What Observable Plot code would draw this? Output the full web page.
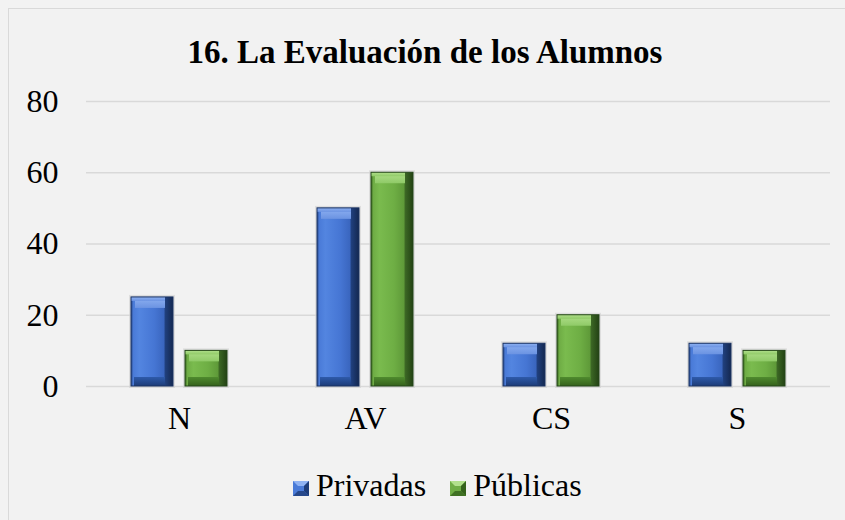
<!DOCTYPE html>
<html>
<head>
<meta charset="utf-8">
<script src="https://cdn.jsdelivr.net/npm/d3@7"></script>
<script src="https://cdn.jsdelivr.net/npm/@observablehq/plot@0.6"></script>
<style>
  html, body { margin: 0; padding: 0; background: #f2f2f2; }
  #page { position: relative; width: 845px; height: 520px; overflow: hidden; background: #f2f2f2; }
  #frame { position: absolute; left: 8px; top: 8px; width: 860px; height: 540px; border: 1.5px solid #d9d9d9; box-sizing: border-box; }
  #title { position: absolute; left: 0; top: 36px; width: 850px; text-align: center;
    font-family: "Liberation Serif", "Times New Roman", serif; font-weight: bold; font-size: 33px; line-height: 33px; color: #000; }
  #chart { position: absolute; left: 0; top: 0; }
  #legend { position: absolute; left: 293px; top: 469px; font-family: "Liberation Serif", "Times New Roman", serif;
    font-size: 32px; line-height: 32px; color: #000; white-space: nowrap; }
  #legend span.item { display: inline-block; margin-right: 24px; }
  #legend svg { vertical-align: baseline; margin-right: 7px; }
</style>
</head>
<body>
<div id="page">
  <div id="frame"></div>
  <div id="title"></div>
  <div id="chart"></div>
  <div id="legend"></div>
</div>
<script>
const titleText = "16. La Evaluación de los Alumnos";
const categories = ["N", "AV", "CS", "S"];
const seriesNames = ["Privadas", "Públicas"];
const privadas = [25, 50, 12, 12];
const publicas = [10, 60, 20, 10];
const yTicks = [0, 20, 40, 60, 80];

const data = categories.flatMap((c, i) => [
  {cat: c, series: seriesNames[0], value: privadas[i]},
  {cat: c, series: seriesNames[1], value: publicas[i]}
]);
const dataP = data.filter(d => d.series === seriesNames[0]);
const dataU = data.filter(d => d.series === seriesNames[1]);

document.getElementById("title").textContent = titleText;

function bevelMarks(rows, key, outline) {
  const common = {fx: "cat", x: "series"};
  return [
    Plot.barY(rows, {...common, y: "value", fill: "none", stroke: "#d0d0d0", strokeWidth: 4, strokeOpacity: 0.6}),
    Plot.barY(rows, {...common, y: "value", fill: `url(#body${key})`}),
    Plot.barY(rows, {...common, y1: "value", y2: "value", insetBottom: -11, insetLeft: 4, insetRight: 8, fill: `url(#top${key})`}),
    Plot.barY(rows, {...common, y1: "value", y2: "value", insetBottom: -4, insetRight: 8, fill: `url(#top${key})`}),
    Plot.barY(rows, {...common, y1: () => 0, y2: () => 0, insetTop: -9, insetLeft: 3, insetRight: 8, fill: `url(#bot${key})`}),
    Plot.barY(rows, {...common, y: "value", fill: "none", stroke: outline, strokeWidth: 1})
  ];
}

const chart = Plot.plot({
  width: 845,
  height: 450,
  marginTop: 101,
  marginBottom: 64,
  marginLeft: 86,
  marginRight: 15,
  style: {background: "transparent", fontFamily: "'Liberation Serif', 'Times New Roman', serif", fontSize: "32px", color: "#000", overflow: "visible"},
  fx: {domain: categories, padding: 0, axis: "bottom", tickSize: 0, tickPadding: 20, label: null},
  x: {domain: seriesNames, paddingInner: 0.222, paddingOuter: 0.833, axis: null},
  y: {domain: [0, 80], ticks: yTicks, tickSize: 0, tickPadding: 28, label: null},
  marks: [
    Plot.ruleY(yTicks, {stroke: "#d9d9d9", strokeWidth: 1.5}),
    ...bevelMarks(dataP, "P", "#1a3262"),
    ...bevelMarks(dataU, "U", "#25461a")
  ]
});

const defsHtml = `
<linearGradient id="bodyP" x1="0" x2="1" y1="0" y2="0">
  <stop offset="0" stop-color="#2a4c90"/>
  <stop offset="0.06" stop-color="#4a7bd8"/>
  <stop offset="0.2" stop-color="#5385e0"/>
  <stop offset="0.55" stop-color="#4676d4"/>
  <stop offset="0.78" stop-color="#3a66bf"/>
  <stop offset="0.82" stop-color="#203f7c"/>
  <stop offset="1" stop-color="#142850"/>
</linearGradient>
<linearGradient id="topP" x1="0" x2="0" y1="0" y2="1">
  <stop offset="0" stop-color="#8fb2f2"/>
  <stop offset="1" stop-color="#6b93e2"/>
</linearGradient>
<linearGradient id="botP" x1="0" x2="0" y1="0" y2="1">
  <stop offset="0" stop-color="#2e5aaa"/>
  <stop offset="1" stop-color="#1d3c78"/>
</linearGradient>
<linearGradient id="bodyU" x1="0" x2="1" y1="0" y2="0">
  <stop offset="0" stop-color="#3c6a22"/>
  <stop offset="0.06" stop-color="#6fad45"/>
  <stop offset="0.2" stop-color="#7abb4e"/>
  <stop offset="0.55" stop-color="#6eae44"/>
  <stop offset="0.78" stop-color="#5f9a39"/>
  <stop offset="0.82" stop-color="#3b6624"/>
  <stop offset="1" stop-color="#234214"/>
</linearGradient>
<linearGradient id="topU" x1="0" x2="0" y1="0" y2="1">
  <stop offset="0" stop-color="#b2e08c"/>
  <stop offset="1" stop-color="#8fca67"/>
</linearGradient>
<linearGradient id="botU" x1="0" x2="0" y1="0" y2="1">
  <stop offset="0" stop-color="#4f8a2e"/>
  <stop offset="1" stop-color="#35621c"/>
</linearGradient>`;
const defs = document.createElementNS("http://www.w3.org/2000/svg", "defs");
defs.innerHTML = defsHtml;
chart.insertBefore(defs, chart.firstChild);
document.getElementById("chart").appendChild(chart);

const legend = d3.select("#legend");
const swatchColors = [["#4a7bd8", "#8fb2f2", "#1d3c78"], ["#6fad45", "#b2e08c", "#35621c"]];
seriesNames.forEach((name, i) => {
  const item = legend.append("span").attr("class", "item");
  const s = item.append("svg").attr("width", 16).attr("height", 15);
  const [base, light, dark] = swatchColors[i];
  s.append("rect").attr("width", 16).attr("height", 15).attr("fill", base);
  s.append("polygon").attr("points", "0,0 16,0 11,5 5,5").attr("fill", light);
  s.append("polygon").attr("points", "16,0 16,15 11,10 11,5").attr("fill", dark);
  s.append("polygon").attr("points", "0,15 16,15 11,10 5,10").attr("fill", dark).attr("opacity", 0.8);
  item.append("span").text(name);
});
</script>
</body>
</html>
